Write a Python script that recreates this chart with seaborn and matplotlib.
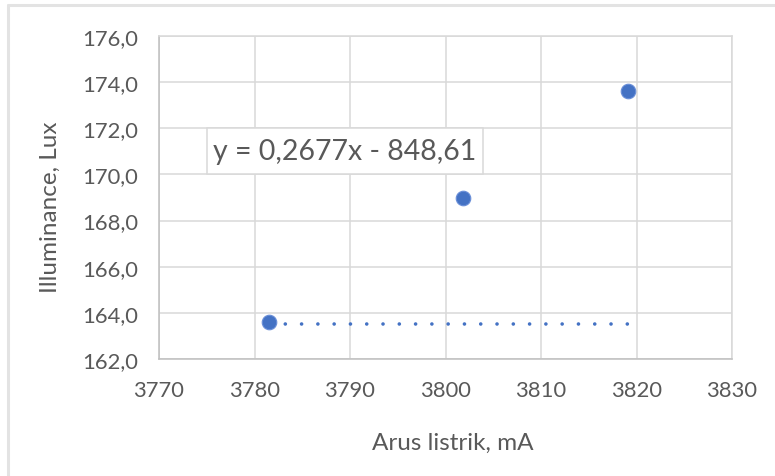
import matplotlib
matplotlib.use("Agg")
import matplotlib.pyplot as plt
import seaborn as sns
import pandas as pd
from matplotlib.lines import Line2D
from matplotlib.patches import Rectangle

# data
arus = [3781.55, 3801.8, 3819.08]
lux = [163.61, 168.99, 173.62]
trend_x = [3781.55, 3819.08]
trend_y = [163.51, 163.51]
x_ticks = [3770, 3780, 3790, 3800, 3810, 3820, 3830]
y_ticks = [162, 164, 166, 168, 170, 172, 174, 176]
equation = "y = 0,2677x - 848,61"
x_label = "Arus listrik, mA"
y_label = "Illuminance, Lux"

sns.set_theme(style="white")
plt.rcParams['font.family'] = ['Lato', 'DejaVu Sans']

BLUE = "#4472C4"
GRID = "#d9d9d9"
TXT = "#595959"

fig = plt.figure(figsize=(7.75, 4.77), dpi=100)
fig.patch.set_facecolor("white")
ax = fig.add_axes([159/775, 1-360/477, (732-159)/775, (360-37)/477])

df = pd.DataFrame({"x": arus, "y": lux})
tdf = pd.DataFrame({"x": trend_x, "y": trend_y})

sns.lineplot(data=tdf, x="x", y="y", ax=ax, color=BLUE, linewidth=2.6,
             dashes=False, zorder=3)
line = ax.lines[-1]
line.set_dashes((0.01, 4.5))
line.set_dash_capstyle("round")

sns.scatterplot(data=df, x="x", y="y", ax=ax, color=BLUE, s=110, marker="o",
                edgecolor="#6a8fd8", linewidth=0.8, zorder=4)

ax.set_xlim(3770, 3830)
ax.set_ylim(162, 176)
ax.set_xticks(x_ticks)
ax.set_yticks(y_ticks)
ax.set_xticklabels([str(v) for v in x_ticks])
ax.set_yticklabels([f"{v},0" for v in y_ticks])
ax.grid(True, color=GRID, linewidth=1.1)
ax.set_axisbelow(True)
for s in ["top", "right"]:
    ax.spines[s].set_color(GRID)
    ax.spines[s].set_linewidth(1.1)
for s in ["left", "bottom"]:
    ax.spines[s].set_color("#bfbfbf")
    ax.spines[s].set_linewidth(1.1)
ax.tick_params(axis="both", length=0, labelsize=15.8, labelcolor=TXT)
ax.tick_params(axis="x", pad=15)
ax.tick_params(axis="y", pad=15)

ax.set_xlabel(x_label, fontsize=17.5, color=TXT)
ax.set_ylabel(y_label, fontsize=17.5, color=TXT)
ax.xaxis.set_label_coords((453-159)/573, -(433-360)/323)
ax.yaxis.set_label_coords(-(159-61)/573, (360-207)/323)

# equation box
ax.add_patch(Rectangle((3775.03, 170), 28.9, 2, facecolor="white",
                       edgecolor=GRID, linewidth=1.1, zorder=5))
ax.text(3775.03 + 28.9/2, 171.0, equation, ha="center", va="center",
        fontsize=20.5, color=TXT, zorder=6)

# outer chart frame
fig.add_artist(Line2D([8/775, 8/775], [0, 1-6/477], color="#e3e3e3", linewidth=2.2,
                      transform=fig.transFigure))
fig.add_artist(Line2D([8/775, 1], [1-6/477, 1-6/477], color="#e3e3e3", linewidth=2.2,
                      transform=fig.transFigure))

fig.savefig("out.png", dpi=100, facecolor="white")
